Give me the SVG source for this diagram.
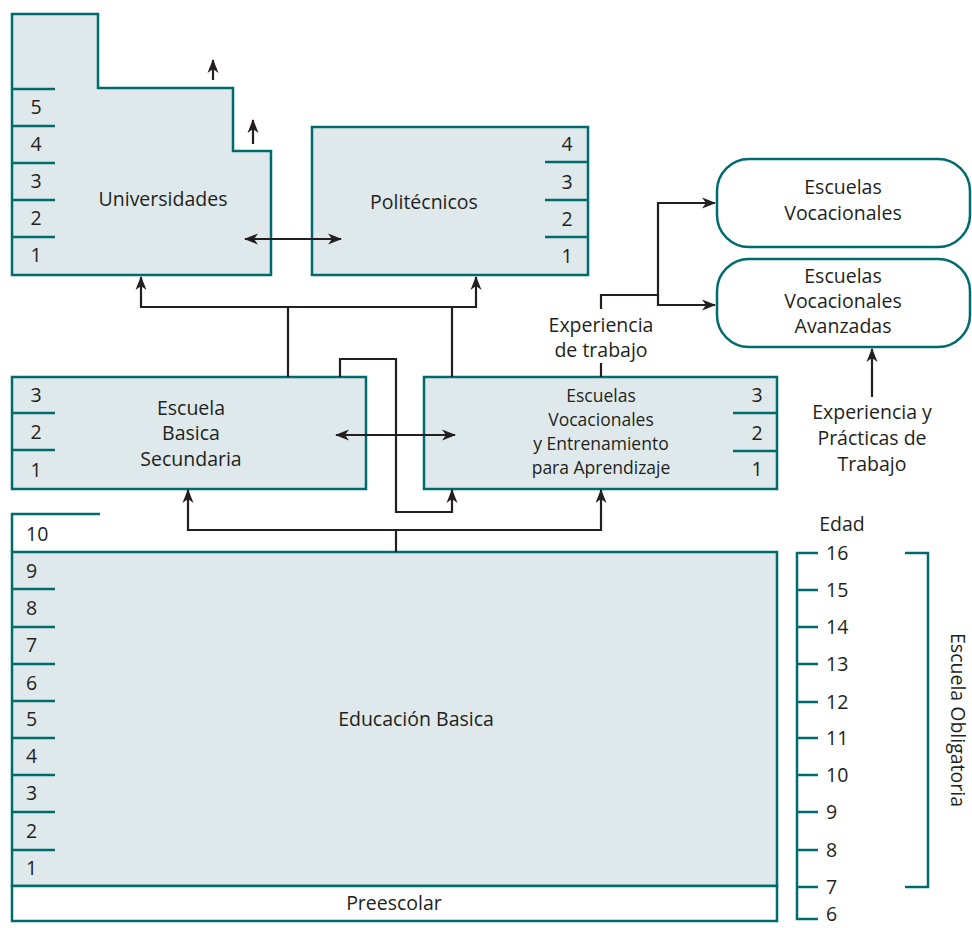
<svg xmlns="http://www.w3.org/2000/svg" width="972" height="928" viewBox="0 0 972 928">
<style>
.box{fill:#dfe9eb;stroke:#006b6d;stroke-width:2.5}
.wbox{fill:#ffffff;stroke:#006b6d;stroke-width:2.5}
.tk{stroke:#006b6d;stroke-width:2.5;fill:none}
.c{fill:none;stroke:#231f20;stroke-width:2.2}
text{font-family:"Open Sans","Noto Sans",sans-serif;font-size:19.5px;fill:#231f20}
.m{text-anchor:middle}
.s{font-size:17.5px}
</style>
<defs>
<marker id="ah" viewBox="0 0 14 12" refX="13" refY="6" markerWidth="14" markerHeight="12" markerUnits="userSpaceOnUse" orient="auto-start-reverse">
<path d="M0,0.5 L14,6 L0,11.5 L4,6 z" fill="#231f20"/>
</marker>
</defs>

<g id="universidades">
<path class="box" d="M12,14 H98 V88 H233 V151 H271 V275 H12 Z"/>
<path class="tk" d="M12,89 H55 M12,126 H55 M12,163 H55 M12,200 H55 M12,237 H55"/>
<text x="36" y="114" class="m">5</text>
<text x="36" y="151" class="m">4</text>
<text x="36" y="188" class="m">3</text>
<text x="36" y="225" class="m">2</text>
<text x="36" y="262" class="m">1</text>
<text x="163" y="206" class="m">Universidades</text>
</g>

<g id="politecnicos">
<rect class="box" x="312" y="127" width="276" height="148"/>
<path class="tk" d="M545,162 H588 M545,200 H588 M545,237 H588"/>
<text x="567" y="151" class="m">4</text>
<text x="567" y="189" class="m">3</text>
<text x="567" y="226" class="m">2</text>
<text x="567" y="263" class="m">1</text>
<text x="424" y="209" class="m">Politécnicos</text>
</g>

<g id="escuela-basica-secundaria">
<rect class="box" x="12" y="377" width="354" height="112"/>
<path class="tk" d="M12,413 H55 M12,450 H55"/>
<text x="36" y="402" class="m">3</text>
<text x="36" y="439" class="m">2</text>
<text x="36" y="477" class="m">1</text>
<text x="191" y="415" class="m">Escuela</text>
<text x="191" y="440" class="m">Basica</text>
<text x="191" y="466" class="m">Secundaria</text>
</g>

<g id="escuelas-vocacionales-entrenamiento">
<rect class="box" x="424" y="377" width="353" height="112"/>
<path class="tk" d="M733,413 H777 M733,451 H777"/>
<text x="757" y="402" class="m">3</text>
<text x="757" y="440" class="m">2</text>
<text x="757" y="476" class="m">1</text>
<text x="601" y="402" class="m s">Escuelas</text>
<text x="601" y="426" class="m s">Vocacionales</text>
<text x="601" y="450" class="m s">y Entrenamiento</text>
<text x="601" y="474" class="m s">para Aprendizaje</text>
</g>

<g id="escuelas-vocacionales">
<rect class="wbox" x="717" y="159" width="253" height="88" rx="32" ry="32"/>
<text x="843" y="194" class="m">Escuelas</text>
<text x="843" y="220" class="m">Vocacionales</text>
</g>

<g id="escuelas-vocacionales-avanzadas">
<rect class="wbox" x="717" y="259" width="253" height="88" rx="32" ry="32"/>
<text x="843" y="283" class="m">Escuelas</text>
<text x="843" y="308" class="m">Vocacionales</text>
<text x="843" y="333" class="m">Avanzadas</text>
</g>

<g id="experiencia-trabajo">
<text x="601" y="332" class="m">Experiencia</text>
<text x="601" y="357" class="m">de trabajo</text>
</g>

<g id="experiencia-practicas">
<text x="872" y="419" class="m">Experiencia y</text>
<text x="872" y="445" class="m">Prácticas de</text>
<text x="872" y="471" class="m">Trabajo</text>
</g>

<g id="educacion-basica">
<path class="tk" d="M12,552 V514 H100"/>
<rect class="box" x="12" y="552" width="765" height="334"/>
<path class="tk" d="M12,589 H55 M12,627 H55 M12,664 H55 M12,701 H55 M12,738 H55 M12,775 H55 M12,812 H55 M12,850 H55"/>
<text x="26" y="541">10</text>
<text x="26" y="578">9</text>
<text x="26" y="615">8</text>
<text x="26" y="652">7</text>
<text x="26" y="690">6</text>
<text x="26" y="726">5</text>
<text x="26" y="763">4</text>
<text x="26" y="800">3</text>
<text x="26" y="838">2</text>
<text x="26" y="875">1</text>
<text x="416" y="726" class="m">Educación Basica</text>
</g>

<g id="preescolar">
<rect class="wbox" x="12" y="886" width="765" height="35"/>
<text x="394" y="910" class="m">Preescolar</text>
</g>

<g id="edad">
<text x="842" y="531" class="m">Edad</text>
<path class="tk" d="M818,553 H797 V919 H818 M797,590 H818 M797,627 H818 M797,664 H818 M797,702 H818 M797,738 H818 M797,775 H818 M797,812 H818 M797,850 H818 M797,887 H818"/>
<text x="826" y="560">16</text>
<text x="826" y="597">15</text>
<text x="826" y="634">14</text>
<text x="826" y="671">13</text>
<text x="826" y="709">12</text>
<text x="826" y="745">11</text>
<text x="826" y="782">10</text>
<text x="826" y="819">9</text>
<text x="826" y="857">8</text>
<text x="826" y="894">7</text>
<text x="826" y="921">6</text>
</g>

<g id="escuela-obligatoria">
<path class="tk" d="M905,553 H928 V887 H905"/>
<text x="0" y="0" class="m" transform="translate(951,720) rotate(90)">Escuela Obligatoria</text>
</g>

<g id="connectors">
<path class="c" d="M213,80 V60" marker-end="url(#ah)"/>
<path class="c" d="M253,144 V120" marker-end="url(#ah)"/>
<path class="c" d="M245,239 H341" marker-start="url(#ah)" marker-end="url(#ah)"/>
<path class="c" d="M288,377 V307 H141 V277" marker-end="url(#ah)"/>
<path class="c" d="M288,307 H476 V277" marker-end="url(#ah)"/>
<path class="c" d="M452,377 V307"/>
<path class="c" d="M340,377 V359 H396 V512 H452 V490" marker-end="url(#ah)"/>
<path class="c" d="M336,435 H455" marker-start="url(#ah)" marker-end="url(#ah)"/>
<path class="c" d="M396,552 V530 H188 V490" marker-end="url(#ah)"/>
<path class="c" d="M396,530 H601 V490" marker-end="url(#ah)"/>
<path class="c" d="M601,377 V363"/>
<path class="c" d="M601,309 V295 H658 V203 H715" marker-end="url(#ah)"/>
<path class="c" d="M658,295 V305 H715" marker-end="url(#ah)"/>
<path class="c" d="M872,397 V349" marker-end="url(#ah)"/>
</g>
</svg>
